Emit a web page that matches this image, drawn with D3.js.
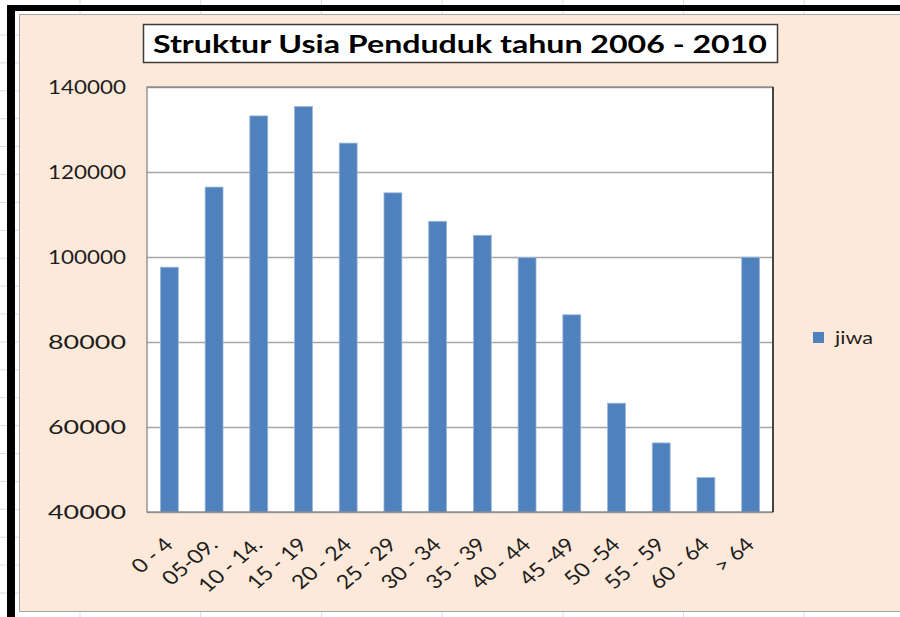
<!DOCTYPE html>
<html>
<head>
<meta charset="utf-8">
<script src="https://cdn.jsdelivr.net/npm/d3@7"></script>
<style>
  body { margin: 0; background: #fff; }
  text { font-family: Lato, "Open Sans", sans-serif; fill: #1e1e1e; }
</style>
</head>
<body>
<div id="chart"></div>
<script>
const ageGroups = ["0 - 4", "05-09.", "10 - 14.", "15 - 19", "20 - 24", "25 - 29", "30 - 34",
  "35 - 39", "40 - 44", "45 -49", "50 -54", "55 - 59", "60 - 64", "> 64"];
const jiwa = [97600, 116450, 133200, 135400, 126800, 115100, 108400,
  105100, 99850, 86400, 65600, 56250, 48100, 99950];
const yTicks = [40000, 60000, 80000, 100000, 120000, 140000];
const seriesName = "jiwa";
const chartTitle = "Struktur Usia Penduduk tahun 2006 - 2010";

const svgWidth = 900;
const svgHeight = 617;
const plot = { left: 147, right: 773, top: 87, bottom: 512 };

let svg = d3.select("#chart").append("svg")
  .attr("width", svgWidth)
  .attr("height", svgHeight);

// worksheet behind the chart: grid lines + the black frame
let sheet = svg.append("g");
d3.range(80, 900, 120.7).forEach(x => {
  sheet.append("line").attr("x1", x).attr("x2", x).attr("y1", 0).attr("y2", svgHeight)
    .attr("stroke", "#dadcdd").attr("stroke-width", 1);
});
d3.range(35, 617, 27.9).forEach(y => {
  sheet.append("line").attr("x1", 0).attr("x2", svgWidth).attr("y1", y).attr("y2", y)
    .attr("stroke", "#dadcdd").attr("stroke-width", 1);
});
sheet.append("rect").attr("x", 7).attr("y", 5).attr("width", 893).attr("height", 6).attr("fill", "#000");
sheet.append("rect").attr("x", 7).attr("y", 5).attr("width", 8).attr("height", 612).attr("fill", "#000");

// chart area
svg.append("rect")
  .attr("x", 19.5).attr("y", 14.5)
  .attr("width", 890).attr("height", 597)
  .attr("fill", "#fde9d9")
  .attr("stroke", "#a5a5a5");

// title box
svg.append("rect")
  .attr("x", 143.5).attr("y", 24.5)
  .attr("width", 634).attr("height", 38)
  .attr("fill", "#fff")
  .attr("stroke", "#3c3c3c")
  .attr("stroke-width", 1.5);
svg.append("text")
  .attr("x", 153).attr("y", 53)
  .attr("font-size", 25)
  .attr("font-weight", "bold")
  .style("fill", "#000")
  .attr("textLength", 614)
  .attr("lengthAdjust", "spacingAndGlyphs")
  .text(chartTitle);

let x = d3.scaleBand()
  .domain(ageGroups)
  .range([plot.left, plot.right])
  .paddingInner(0.6)
  .paddingOuter(0.3);
let y = d3.scaleLinear()
  .domain([40000, 140000])
  .range([plot.bottom, plot.top]);

// plot area
svg.append("rect")
  .attr("x", plot.left).attr("y", plot.top)
  .attr("width", plot.right - plot.left).attr("height", plot.bottom - plot.top)
  .attr("fill", "#fff");

let grid = svg.append("g")
  .attr("transform", `translate(${plot.left}, 0)`)
  .call(d3.axisLeft(y).tickValues(yTicks).tickSize(-(plot.right - plot.left)).tickFormat(""));
grid.select(".domain").remove();
grid.selectAll(".tick line").attr("stroke", "#a6a6a6").attr("stroke-width", 1.5);

svg.append("g")
  .selectAll("rect")
  .data(jiwa)
  .enter()
  .append("rect")
  .attr("x", (d, i) => x(ageGroups[i]))
  .attr("y", d => y(d))
  .attr("width", x.bandwidth())
  .attr("height", d => plot.bottom - y(d))
  .attr("fill", "#4f81bd")
  .attr("stroke", "#9bb7d9")
  .attr("stroke-width", 0.8);

// plot border
svg.append("rect")
  .attr("x", plot.left).attr("y", plot.top)
  .attr("width", plot.right - plot.left).attr("height", plot.bottom - plot.top)
  .attr("fill", "none")
  .attr("stroke", "#808080")
  .attr("stroke-width", 1.2);
svg.append("line")
  .attr("x1", plot.right).attr("x2", plot.right)
  .attr("y1", plot.top).attr("y2", plot.bottom)
  .attr("stroke", "#222").attr("stroke-width", 1.5);

// y labels
let yAxis = svg.append("g")
  .attr("transform", `translate(${plot.left - 21}, 0)`)
  .call(d3.axisLeft(y).tickValues(yTicks).tickSize(0).tickFormat(d => d));
yAxis.select(".domain").remove();
yAxis.selectAll("text")
  .attr("x", 0)
  .attr("dy", "0.36em")
  .attr("font-size", 19)
  .attr("textLength", 78)
  .attr("lengthAdjust", "spacingAndGlyphs")
  .style("font-family", "Lato, sans-serif")
  .style("fill", "#1e1e1e");

// x labels, rotated
let xAxis = svg.append("g")
  .attr("transform", `translate(0, ${plot.bottom})`)
  .call(d3.axisBottom(x).tickSize(0));
xAxis.select(".domain").remove();
xAxis.selectAll("text")
  .attr("x", 0).attr("y", 0).attr("dy", 0)
  .attr("text-anchor", "end")
  .attr("font-size", 19.5)
  .style("font-family", "Lato, sans-serif")
  .style("fill", "#1e1e1e")
  .attr("transform", "translate(5, 34) scale(1.18, 1) rotate(-45)");

// legend
svg.append("rect")
  .attr("x", 813).attr("y", 332)
  .attr("width", 11).attr("height", 11)
  .attr("fill", "#4f81bd");
svg.append("text")
  .attr("x", 835).attr("y", 344)
  .attr("font-size", 18)
  .attr("textLength", 38)
  .attr("lengthAdjust", "spacingAndGlyphs")
  .text(seriesName);
</script>
</body>
</html>
